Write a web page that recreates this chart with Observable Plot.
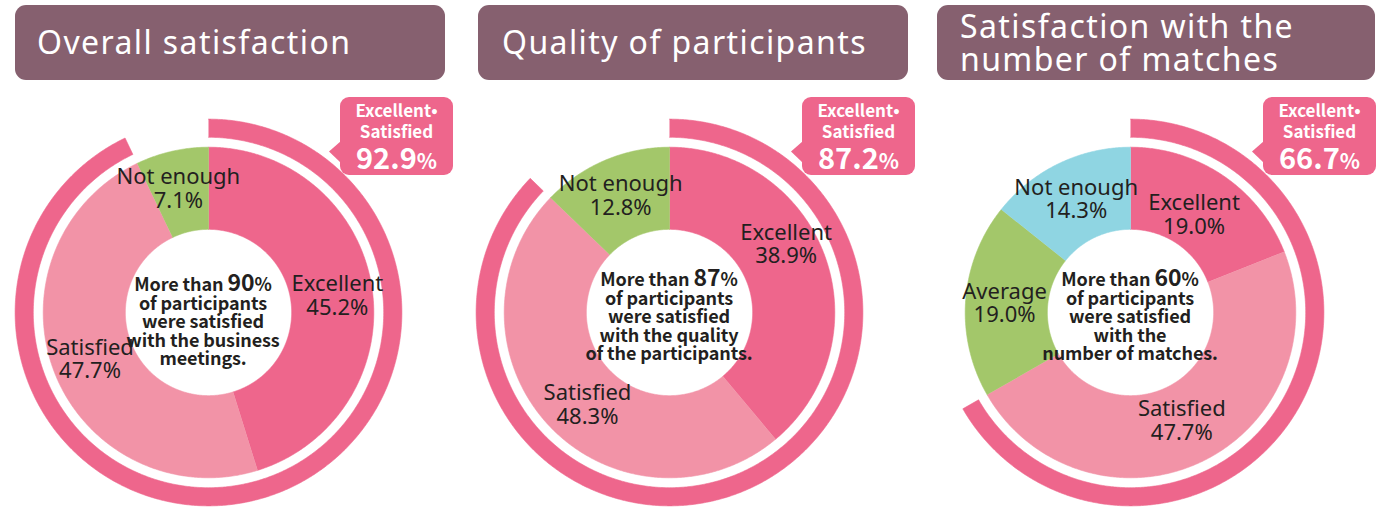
<!DOCTYPE html>
<html><head><meta charset="utf-8">
<script src="https://cdn.jsdelivr.net/npm/d3@7"></script>
<script src="https://cdn.jsdelivr.net/npm/@observablehq/plot@0.6"></script>
<style>
html,body{margin:0;padding:0;background:#fff;overflow:hidden;}
#root{position:relative;width:1380px;height:508px;overflow:hidden;font-family:"Noto Sans",sans-serif;}
.title{position:absolute;top:5px;height:75px;background:#86606f;border-radius:11px;color:#fff;font-size:32px;box-sizing:border-box;letter-spacing:1.4px;}
.title div{position:absolute;white-space:nowrap;}
.plot{position:absolute;}
.note{position:absolute;width:200px;text-align:center;font-family:"Noto Sans CJK JP",sans-serif;font-weight:700;font-size:18px;line-height:18.6px;color:#231f20;letter-spacing:-0.1px;}
.note .big{font-size:23px;}
.callout{position:absolute;top:97px;width:113px;height:78px;background:#ee668c;border-radius:9px;color:#fff;text-align:center;font-family:"Noto Sans CJK JP",sans-serif;font-weight:700;}
.callout .tip{position:absolute;left:-11px;top:44px;width:12px;height:22px;background:#ee668c;clip-path:polygon(100% 0,0 48%,100% 100%);}
.callout .l1{position:absolute;left:0;right:0;top:3px;font-size:17px;line-height:20px;}
.callout .l2{position:absolute;left:0;right:0;top:24px;font-size:17px;line-height:20px;}
.callout .l3{position:absolute;left:0;right:0;top:43px;font-size:29px;line-height:32px;}
.callout .pct{font-size:21px;}
</style>
</head><body><div id="root"></div>
<script>
// ---- data ----
const titles1 = ["Overall satisfaction"];
const titles2 = ["Quality of participants"];
const titles3 = ["Satisfaction with the", "number of matches"];

const categories1 = ["Excellent", "Satisfied", "Not enough"];
const values1 = [45.2, 47.7, 7.1];
const categories2 = ["Excellent", "Satisfied", "Not enough"];
const values2 = [38.9, 48.3, 12.8];
const categories3 = ["Excellent", "Satisfied", "Average", "Not enough"];
const values3 = [19.0, 47.7, 19.0, 14.3];

const combinedLabel = ["Excellent•", "Satisfied"];
const combinedValues = [92.9, 87.2, 66.7];

const notePercents = [90, 87, 60];
const noteLines1 = ["of participants", "were satisfied", "with the business", "meetings."];
const noteLines2 = ["of participants", "were satisfied", "with the quality", "of the participants."];
const noteLines3 = ["of participants", "were satisfied", "with the", "number of matches."];

// ---- styles / layout ----
const PINK = "#ee668c", LIGHT = "#f293a7", GREEN = "#a3c76a", BLUE = "#8fd5e2";
const panels = [
  {titles: titles1, cats: categories1, vals: values1, total: combinedValues[0], pct: notePercents[0], lines: noteLines1,
   colors: [PINK, LIGHT, GREEN], cx: 208, cy: 312, box: [15, 430], tx: 22, callX: 340, noteDx: -5, noteDy: 6,
   nudge: [[3, 2], [0, 0], [-2, 0]]},
  {titles: titles2, cats: categories2, vals: values2, total: combinedValues[1], pct: notePercents[1], lines: noteLines2,
   colors: [PINK, LIGHT, GREEN], cx: 669, cy: 312, box: [478, 430], tx: 24, callX: 802, noteDx: 0, noteDy: 1,
   nudge: [[-3, -25], [11, 5], [1, 0]]},
  {titles: titles3, cats: categories3, vals: values3, total: combinedValues[2], pct: notePercents[2], lines: noteLines3,
   colors: [PINK, LIGHT, GREEN, BLUE], cx: 1130, cy: 312, box: [937, 438], tx: 23, callX: 1263, noteDx: 0, noteDy: 1,
   nudge: [[-8, 7], [-4, -7], [1, 0], [1, 1]]}
];
const SIZE = 400, EXT = 1.21, PX = SIZE / (2 * EXT);
const R_IN = 0.503, R_OUT = 1.0, RING_IN = 1.06, RING_OUT = 1.17, LABEL_R = 0.77;

function arcPoly(key, cat, a0, a1, r0, r1) {
  const pts = [];
  const n = Math.max(2, Math.ceil((a1 - a0) / 0.5));
  for (let i = 0; i <= n; i++) {
    const a = (a0 + (a1 - a0) * i / n) * Math.PI / 180;
    pts.push({key, cat, x: r1 * Math.sin(a), y: r1 * Math.cos(a)});
  }
  for (let i = n; i >= 0; i--) {
    const a = (a0 + (a1 - a0) * i / n) * Math.PI / 180;
    pts.push({key, cat, x: r0 * Math.sin(a), y: r0 * Math.cos(a)});
  }
  return pts;
}

const root = document.getElementById("root");

panels.forEach((p, pi) => {
  // title box
  const t = document.createElement("div");
  t.className = "title";
  t.style.left = p.box[0] + "px";
  t.style.width = p.box[1] + "px";
  if (p.titles.length === 1) {
    const d = document.createElement("div");
    d.textContent = p.titles[0];
    d.style.left = p.tx + "px"; d.style.top = "16px"; d.style.lineHeight = "42px";
    t.appendChild(d);
  } else {
    p.titles.forEach((s, i) => {
      const d = document.createElement("div");
      d.textContent = s;
      d.style.left = p.tx + "px"; d.style.top = (0 + i * 33) + "px"; d.style.lineHeight = "42px";
      t.appendChild(d);
    });
  }
  root.appendChild(t);

  // slices
  const total = d3.sum(p.vals);
  let acc = 0;
  const polys = [], labels = [];
  p.vals.forEach((v, i) => {
    const a0 = acc / total * 360, a1 = (acc + v) / total * 360;
    polys.push(...arcPoly("s" + i, p.cats[i], a0, a1, R_IN, R_OUT));
    const am = (a0 + a1) / 2 * Math.PI / 180;
    const [ndx, ndy] = p.nudge[i];
    labels.push({x: LABEL_R * Math.sin(am) + ndx / PX, y: LABEL_R * Math.cos(am) - ndy / PX,
      text: p.cats[i] + "\n" + v.toFixed(1) + "%"});
    acc += v;
  });
  const ring = arcPoly("ring", "Ring", 0, p.total / 100 * 360, RING_IN, RING_OUT);

  const chart = Plot.plot({
    width: SIZE, height: SIZE, margin: 0,
    x: {domain: [-EXT, EXT], axis: null},
    y: {domain: [-EXT, EXT], axis: null},
    color: {domain: [...p.cats, "Ring"], range: [...p.colors, PINK]},
    style: {background: "transparent", overflow: "visible"},
    marks: [
      Plot.line(polys, {x: "x", y: "y", z: "key", fill: "cat", stroke: "cat", strokeWidth: 0.6, curve: "linear"}),
      Plot.line(ring, {x: "x", y: "y", z: "key", fill: "cat", stroke: "cat", strokeWidth: 0.6, curve: "linear"}),
      Plot.text(labels, {x: "x", y: "y", text: "text", fontSize: 22, lineHeight: 1.08, fill: "#231f20",
        fontFamily: "Noto Sans, sans-serif", lineAnchor: "middle"})
    ]
  });
  const wrap = document.createElement("div");
  wrap.className = "plot";
  wrap.style.left = (p.cx - SIZE / 2) + "px";
  wrap.style.top = (p.cy - SIZE / 2) + "px";
  wrap.appendChild(chart);
  root.appendChild(wrap);

  // center note
  const n = document.createElement("div");
  n.className = "note";
  n.style.left = (p.cx - 100 + p.noteDx) + "px";
  n.style.top = (p.cy - 46 + p.noteDy) + "px";
  n.innerHTML = 'More than <span class="big">' + p.pct + '</span>%<br>' + p.lines.join("<br>");
  root.appendChild(n);

  // callout
  const c = document.createElement("div");
  c.className = "callout";
  c.style.left = p.callX + "px";
  c.innerHTML = '<div class="tip"></div><div class="l1">' + combinedLabel[0] + '</div><div class="l2">' + combinedLabel[1] +
    '</div><div class="l3">' + p.total.toFixed(1) + '<span class="pct">%</span></div>';
  root.appendChild(c);
});
</script>
</body></html>
